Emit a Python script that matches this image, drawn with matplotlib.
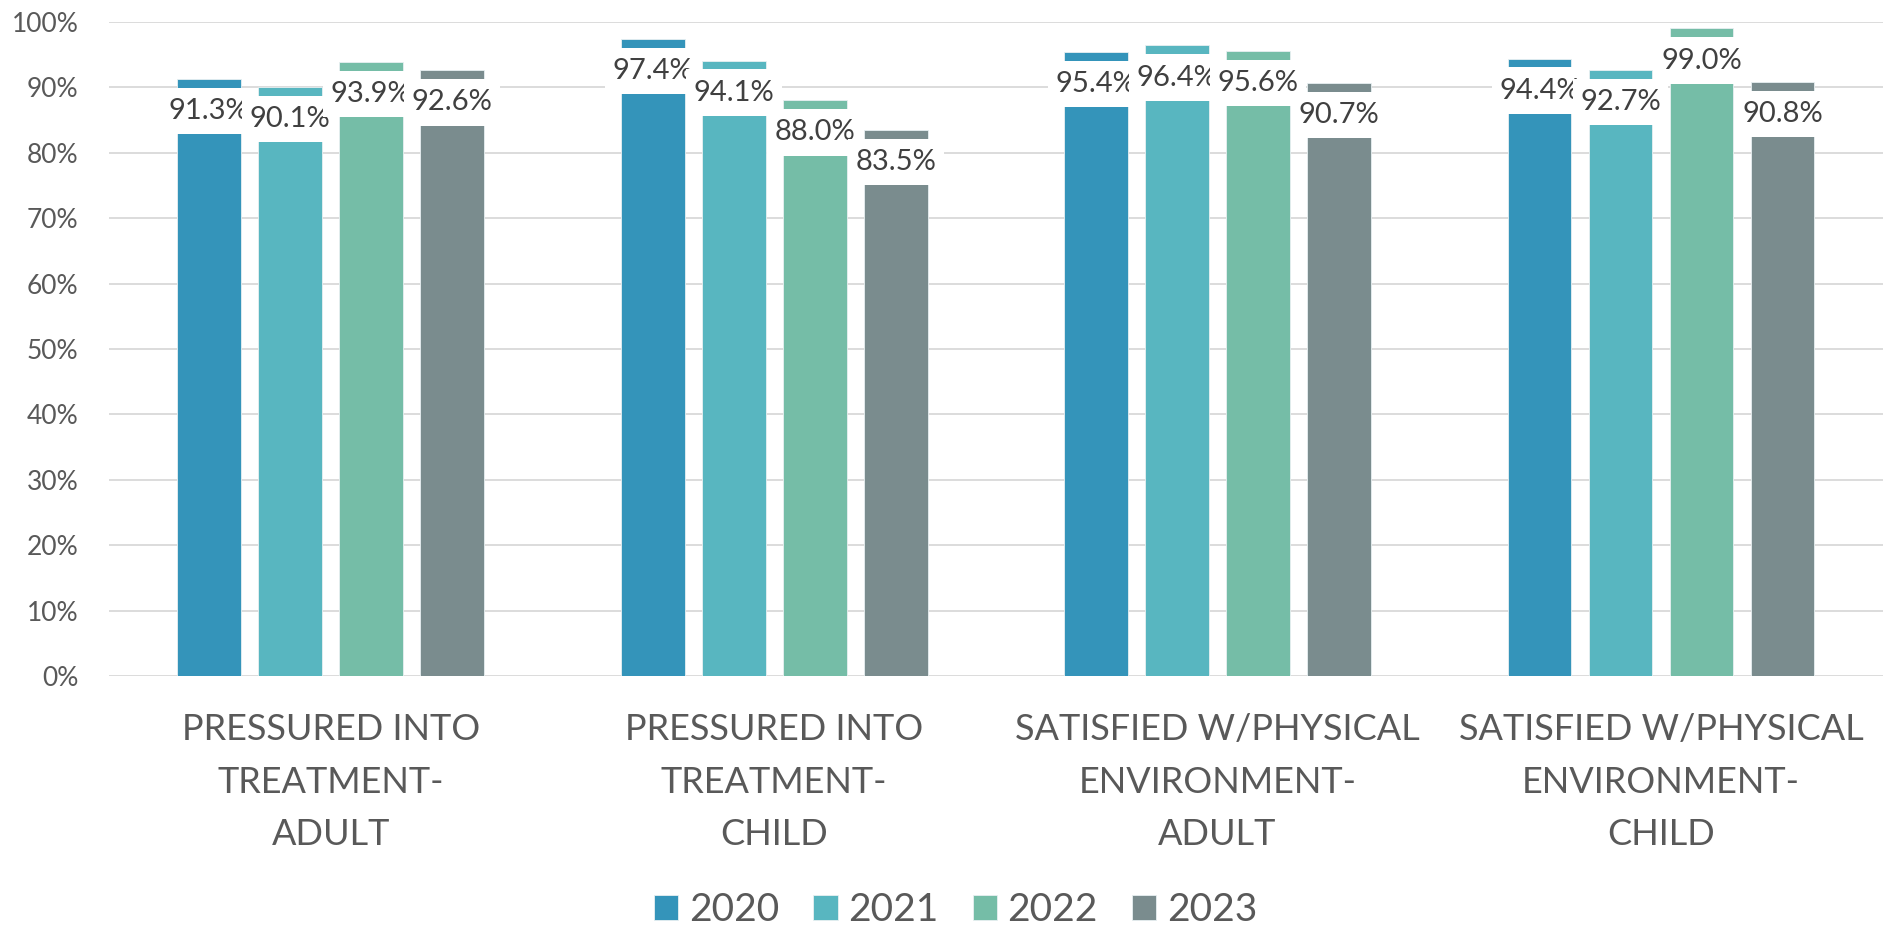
import numpy as np
import matplotlib.pyplot as plt
from matplotlib.path import Path
from matplotlib.ticker import PercentFormatter

plt.rcParams['font.family'] = ['Lato', 'DejaVu Sans']

categories = ['PRESSURED INTO\nTREATMENT-\nADULT',
              'PRESSURED INTO\nTREATMENT-\nCHILD',
              'SATISFIED W/PHYSICAL\nENVIRONMENT-\nADULT',
              'SATISFIED W/PHYSICAL\nENVIRONMENT-\nCHILD']
years = ['2020', '2021', '2022', '2023']
v2020 = [91.3, 97.4, 95.4, 94.4]
v2021 = [90.1, 94.1, 96.4, 92.7]
v2022 = [93.9, 88.0, 95.6, 99.0]
v2023 = [92.6, 83.5, 90.7, 90.8]
colors = ['#3494BA', '#58B6C0', '#75BDA7', '#7A8C8E']

series = [v2020, v2021, v2022, v2023]


def label_box(x0, y0, width, height, mutation_size):
    # white label background, taller than it is padded sideways
    px = 0.26 * mutation_size
    py = 0.35 * mutation_size
    x1, y1 = x0 + width + px, y0 + height + py
    x0, y0 = x0 - px, y0 - py
    return Path([(x0, y0), (x1, y0), (x1, y1), (x0, y1), (x0, y0)],
                [Path.MOVETO, Path.LINETO, Path.LINETO, Path.LINETO,
                 Path.CLOSEPOLY])


fig = plt.figure(figsize=(18.85, 9.26), dpi=100)
ax = fig.add_axes([0.0578, 0.27, 0.941, 0.7063])

x = np.arange(len(categories))
width = 0.144
step = 0.1826

for i, (vals, col, yr) in enumerate(zip(series, colors, years)):
    pos = x + (i - 1.5) * step
    ax.bar(pos, vals, width, color=col, edgecolor='#e8f0f2', linewidth=0.6,
           label=yr, zorder=2)

# data labels sit just under the bar top on a white box
for i, vals in enumerate(series):
    pos = x + (i - 1.5) * step
    for p, v in zip(pos, vals):
        ax.text(p, v - 4.9, f'{v:.1f}%', ha='center', va='center',
                fontsize=21, color='#404040', zorder=3 + i,
                bbox=dict(boxstyle=label_box, fc='white', ec='none'))

ax.set_xlim(-0.5, 3.5)
ax.set_ylim(0, 100)
ax.set_yticks(np.arange(0, 101, 10))
ax.yaxis.set_major_formatter(PercentFormatter(decimals=0))
ax.set_xticks(x)
ax.set_xticklabels(categories, fontsize=26, color='#595959', linespacing=1.72)
ax.tick_params(axis='x', length=0, pad=27)
ax.tick_params(axis='y', length=0, pad=22, labelsize=19, labelcolor='#595959')
ax.grid(axis='y', color='#D9D9D9', linewidth=1.3, zorder=0)
ax.set_axisbelow(True)
for s in ax.spines.values():
    s.set_visible(False)

fig.legend(loc='center', bbox_to_anchor=(0.507, 0.017), ncol=4, frameon=False,
           fontsize=28, handlelength=0.62, handleheight=0.62,
           handletextpad=0.28, columnspacing=0.87, labelcolor='#595959',
           borderpad=0, borderaxespad=0)

fig.savefig('out.png', dpi=100, facecolor='white')
